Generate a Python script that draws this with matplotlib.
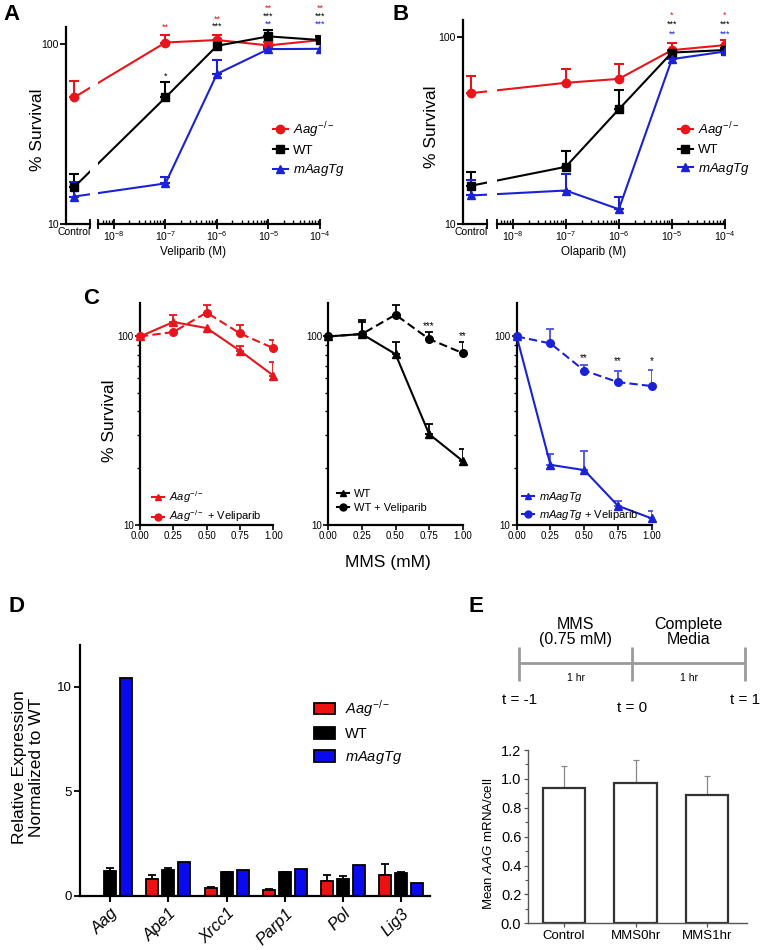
import matplotlib
matplotlib.use('Agg')
import matplotlib.pyplot as plt
import numpy as np
from matplotlib.lines import Line2D
from matplotlib.patches import Patch
from matplotlib.ticker import FixedLocator, FixedFormatter, NullLocator, LogLocator, NullFormatter, MultipleLocator

plt.rcParams['font.family'] = ['Liberation Sans', 'DejaVu Sans']
plt.rcParams['mathtext.fontset'] = 'custom'
plt.rcParams['mathtext.rm'] = 'Liberation Sans'
plt.rcParams['mathtext.it'] = 'Liberation Sans:italic'
plt.rcParams['mathtext.bf'] = 'Liberation Sans:bold'

# ---- data ----
conc = [1e-7, 1e-6, 1e-5, 1e-4]
conc_labels = ['$10^{-8}$', '$10^{-7}$', '$10^{-6}$', '$10^{-5}$', '$10^{-4}$']

# A: veliparib (control first)
vel_aag = [50.4, 101.7, 105.0, 98.0, 104.8]
vel_aag_err = [11.4, 10.0, 7.0, 4.5, 3.5]
vel_wt = [16.0, 50.4, 97.5, 110.0, 105.0]
vel_wt_err = [3.0, 11.0, 0.0, 10.0, 5.0]
vel_tg = [14.2, 16.8, 68.1, 93.5, 93.8]
vel_tg_err = [3.0, 1.5, 13.4, 2.5, 0.0]

# B: olaparib
ola_aag = [50.0, 56.8, 59.6, 84.9, 90.3]
ola_aag_err = [11.4, 10.6, 12.4, 8.3, 5.3]
ola_wt = [16.0, 20.2, 41.0, 82.4, 85.0]
ola_wt_err = [3.0, 4.3, 11.0, 2.0, 2.0]
ola_tg = [14.2, 15.1, 12.0, 76.0, 83.5]
ola_tg_err = [2.9, 3.3, 2.0, 2.0, 1.5]

# C: MMS dose
mms = [0.0, 0.25, 0.5, 0.75, 1.0]
c_aag = [100, 119.3, 110.8, 83.9, 62.0]
c_aag_err = [0, 10.7, 0, 5.6, 11.0]
c_aag_vel = [100, 105.5, 134.0, 103.7, 86.7]
c_aag_vel_err = [0, 0, 13.0, 11.7, 8.9]
c_wt = [100, 103.0, 80.6, 30.3, 21.8]
c_wt_err = [0, 19.0, 12.8, 3.9, 3.5]
c_wt_vel = [100, 103.0, 130.4, 96.9, 81.6]
c_wt_vel_err = [0, 16.7, 16.6, 8.1, 12.1]
c_tg = [100, 20.8, 19.5, 12.6, 10.8]
c_tg_err = [0, 3.0, 5.1, 0.7, 1.0]
c_tg_vel = [100, 91.8, 65.9, 57.2, 54.5]
c_tg_vel_err = [0, 17.2, 4.8, 8.5, 11.8]

# D: relative expression
genes = ['Aag', 'Ape1', 'Xrcc1', 'Parp1', 'Pol', 'Lig3']
d_aag = [0.02, 0.81, 0.38, 0.30, 0.72, 0.99]
d_aag_err = [0, 0.18, 0.03, 0.02, 0.30, 0.56]
d_wt = [1.21, 1.25, 1.13, 1.13, 0.83, 1.12]
d_wt_err = [0.11, 0.11, 0.03, 0.04, 0.13, 0.02]
d_tg = [10.4, 1.61, 1.23, 1.31, 1.50, 0.64]

# E: AAG mRNA per cell
e_groups = ['Control', 'MMS0hr', 'MMS1hr']
e_vals = [0.94, 0.97, 0.89]
e_err = [0.15, 0.16, 0.13]
t_marks = [-1, 0, 1]

RED = '#e8161c'
BLUE = '#1b22d6'
LBLUE = '#4a50e8'
AAG_LBL = r'$Aag^{-/-}$'
TG_LBL = r'$mAagTg$'

W, H = 760, 950
fig = plt.figure(figsize=(W / 100, H / 100), dpi=100)


def px_axes(l, t, r, b):
    return fig.add_axes([l / W, 1 - b / H, (r - l) / W, (b - t) / H])


def fxy(x, y):
    return x / W, 1 - y / H


def upper_err(ax, x, y, e, color, lw=1.5, cap=3.5, zorder=2):
    x, y, e = np.asarray(x, float), np.asarray(y, float), np.asarray(e, float)
    m = e > 0
    ax.errorbar(x[m], y[m], yerr=[np.zeros(m.sum()), e[m]], fmt='none', ecolor=color,
                elinewidth=lw, capsize=cap, capthick=lw, zorder=zorder)


def control_pos(lo_m, ppd, gap_px, seg_px, ctrl_px):
    c_hi = lo_m - gap_px / ppd
    c_lo = c_hi - seg_px / ppd
    return c_lo, c_hi, 10 ** (c_lo + ctrl_px / ppd)


def dose_panel(ax_c, ax_m, ctrl, ylim, series):
    x = [ctrl] + conc
    for ax in (ax_c, ax_m):
        ax.set_xscale('log')
        ax.set_yscale('log')
        for vals, errs, color, marker in series:
            upper_err(ax, x, vals, errs, color)
            ax.plot(x, vals, color=color, marker=marker, ms=6, lw=1.5, zorder=3)
        ax.set_ylim(ylim)
        for s in ('top', 'right'):
            ax.spines[s].set_visible(False)
        ax.spines['left'].set_linewidth(1.6)
        ax.spines['bottom'].set_linewidth(1.6)
    ax_c.yaxis.set_major_locator(FixedLocator([10, 100]))
    ax_c.yaxis.set_major_formatter(FixedFormatter(['10', '100']))
    ax_c.yaxis.set_minor_locator(NullLocator())
    ax_c.tick_params(axis='y', labelsize=7.5, length=4, width=1.3, pad=1)
    ax_m.spines['left'].set_visible(False)
    ax_m.yaxis.set_major_locator(NullLocator())
    ax_m.yaxis.set_minor_locator(NullLocator())


def setup_dose_x(ax_c, ax_m, lo_m, c_lo, c_hi, ctrl):
    ax_m.set_xlim(10 ** lo_m, 1e-4)
    ax_c.set_xlim(10 ** c_lo, 10 ** c_hi)
    ax_c.xaxis.set_major_locator(FixedLocator([ctrl]))
    ax_c.xaxis.set_major_formatter(FixedFormatter(['Control']))
    ax_c.xaxis.set_minor_locator(FixedLocator([10 ** c_hi]))
    ax_c.xaxis.set_minor_formatter(NullFormatter())
    ax_c.tick_params(axis='x', which='major', length=0, labelsize=7.5, pad=2)
    ax_c.tick_params(axis='x', which='minor', length=7, width=1.3, direction='inout')
    ax_m.xaxis.set_major_locator(FixedLocator([10 ** lo_m, 1e-8, 1e-7, 1e-6, 1e-5, 1e-4]))
    ax_m.xaxis.set_major_formatter(FixedFormatter([''] + conc_labels))
    minors = [k * 10.0 ** n for n in range(-9, -4) for k in range(2, 10)]
    minors = [m for m in minors if 10 ** lo_m < m < 1e-4]
    ax_m.xaxis.set_minor_locator(FixedLocator(minors))
    ax_m.xaxis.set_minor_formatter(NullFormatter())
    ax_m.tick_params(axis='x', which='major', length=7, width=1.3, direction='inout', labelsize=7.5, pad=0)
    ax_m.tick_params(axis='x', which='minor', length=3, width=1.0, direction='in')


def stars(ax, x, items):
    for y, s, color in items:
        ax.text(x, y, s, color=color, ha='center', va='center', fontsize=6.5, clip_on=False)


def dose_legend(ax, x, y, spacing):
    handles = [Line2D([], [], color=RED, marker='o', ms=6, lw=1.5),
               Line2D([], [], color='black', marker='s', ms=6, lw=1.5),
               Line2D([], [], color=BLUE, marker='^', ms=6, lw=1.5)]
    ax.legend(handles, [AAG_LBL, 'WT', TG_LBL], loc='upper left', bbox_to_anchor=fxy(x, y),
              bbox_transform=fig.transFigure, frameon=False, fontsize=9.5, handlelength=1.1,
              handletextpad=0.4, labelspacing=spacing, borderpad=0, borderaxespad=0)


# ---- A ----
ax_ac = px_axes(66, 27, 90, 224)
ax_am = px_axes(98, 27, 320, 224)
a_lo, a_hi, ctrl_a = control_pos(-8.31, 51.5, 8, 24, 8)
dose_panel(ax_ac, ax_am, ctrl_a, (10, 124),
           [(vel_aag, vel_aag_err, RED, 'o'), (vel_wt, vel_wt_err, 'black', 's'),
            (vel_tg, vel_tg_err, BLUE, '^')])
setup_dose_x(ax_ac, ax_am, -8.31, a_lo, a_hi, ctrl_a)
stars(ax_am, 1e-7, [(123, '**', RED), (66, '*', 'black')])
stars(ax_am, 1e-6, [(137, '**', RED), (125, '***', 'black')])
stars(ax_am, 1e-5, [(157, '**', RED), (142, '***', 'black'), (128, '**', BLUE)])
stars(ax_am, 1e-4, [(157, '**', RED), (142, '***', 'black'), (128, '***', BLUE)])
dose_legend(ax_am, 273, 120, 0.4)
fig.text(*fxy(38, 130), '% Survival', rotation=90, ha='center', va='center', fontsize=12.5)
fig.text(*fxy(193, 252), 'Veliparib (M)', ha='center', va='center', fontsize=8.5)

# ---- B ----
ax_bc = px_axes(462.7, 20, 487.3, 224)
ax_bm = px_axes(496.7, 20, 725, 224)
b_lo, b_hi, ctrl_b = control_pos(-8.30, 53.1, 9.4, 24.6, 8)
dose_panel(ax_bc, ax_bm, ctrl_b, (10, 123),
           [(ola_aag, ola_aag_err, RED, 'o'), (ola_wt, ola_wt_err, 'black', 's'),
            (ola_tg, ola_tg_err, BLUE, '^')])
setup_dose_x(ax_bc, ax_bm, -8.30, b_lo, b_hi, ctrl_b)
stars(ax_bm, 1e-5, [(131, '*', RED), (117, '***', 'black'), (103, '**', BLUE)])
stars(ax_bm, 1e-4, [(131, '*', RED), (117, '***', 'black'), (103, '***', BLUE)])
dose_legend(ax_bm, 678, 120, 0.35)
fig.text(*fxy(432, 127), '% Survival', rotation=90, ha='center', va='center', fontsize=12.5)
fig.text(*fxy(594, 252), 'Olaparib (M)', ha='center', va='center', fontsize=8.5)


# ---- C ----
def mms_panel(ax, solid, solid_err, dashed, dashed_err, color, ecolor, labels, leg_xy):
    ax.set_yscale('log')
    upper_err(ax, mms, solid, solid_err, ecolor, lw=1.3, cap=3)
    upper_err(ax, mms, dashed, dashed_err, ecolor, lw=1.3, cap=3)
    ax.plot(mms, solid, color=color, marker='^', ms=5.5, lw=1.5, clip_on=False, zorder=3)
    ax.plot(mms, dashed, color=color, marker='o', ms=5.5, lw=1.5, ls=(0, (4, 2)), clip_on=False, zorder=3)
    ax.set_ylim(10, 150)
    ax.set_xlim(0, 1)
    ax.set_xticks(mms)
    ax.set_xticklabels(['0.00', '0.25', '0.50', '0.75', '1.00'])
    ax.yaxis.set_major_locator(FixedLocator([10, 100]))
    ax.yaxis.set_major_formatter(FixedFormatter(['10', '100']))
    ax.yaxis.set_minor_locator(LogLocator(subs=np.arange(2, 10)))
    ax.yaxis.set_minor_formatter(NullFormatter())
    ax.tick_params(axis='both', which='major', labelsize=7, length=3.5, width=1.2, pad=1)
    ax.tick_params(axis='y', which='minor', length=2, width=1.0)
    for s in ('top', 'right'):
        ax.spines[s].set_visible(False)
    ax.spines['left'].set_linewidth(1.6)
    ax.spines['bottom'].set_linewidth(1.6)
    handles = [Line2D([], [], color=color, marker='^', ms=5, lw=1.5),
               Line2D([], [], color=color, marker='o', ms=5, lw=1.5)]
    ax.legend(handles, labels, loc='upper left', bbox_to_anchor=fxy(*leg_xy),
              bbox_transform=fig.transFigure, frameon=False, fontsize=8, handlelength=1.1,
              handletextpad=0.4, labelspacing=0.35, borderpad=0, borderaxespad=0)


ax_c1 = px_axes(140, 303.3, 273.3, 524.7)
ax_c2 = px_axes(328.3, 303.3, 462.7, 524.7)
ax_c3 = px_axes(516.7, 303.3, 651.7, 524.7)
mms_panel(ax_c1, c_aag, c_aag_err, c_aag_vel, c_aag_vel_err, RED, RED,
          [AAG_LBL, AAG_LBL + ' + Veliparib'], (152, 489))
mms_panel(ax_c2, c_wt, c_wt_err, c_wt_vel, c_wt_vel_err, 'black', 'black',
          ['WT', 'WT + Veliparib'], (337, 489))
mms_panel(ax_c3, c_tg, c_tg_err, c_tg_vel, c_tg_vel_err, BLUE, LBLUE,
          [TG_LBL, TG_LBL + ' + Veliparib'], (522, 490))
for x, y, s in [(0.75, 114, '***'), (1.0, 101, '**')]:
    ax_c2.text(x, y, s, ha='center', va='center', fontsize=7)
for x, y, s in [(0.5, 76.8, '**'), (0.75, 74.3, '**'), (1.0, 73.6, '*')]:
    ax_c3.text(x, y, s, ha='center', va='center', fontsize=7)
fig.text(*fxy(109, 421), '% Survival', rotation=90, ha='center', va='center', fontsize=12.5)
fig.text(*fxy(388, 563), 'MMS (mM)', ha='center', va='center', fontsize=12.5)

# ---- D ----
ax_d = px_axes(80, 645, 430, 896)
xd = np.arange(len(genes))
off, bw = 0.275, 0.206
ax_d.bar(xd - off, d_aag, bw, color='#ee1111', edgecolor='black', lw=1.3, zorder=2)
ax_d.bar(xd, d_wt, bw, color='black', edgecolor='black', lw=1.3, zorder=2)
ax_d.bar(xd + off, d_tg, bw, color='#0a0aee', edgecolor='black', lw=1.3, zorder=2)
upper_err(ax_d, xd - off, d_aag, d_aag_err, 'black', lw=1.3, cap=3, zorder=1)
upper_err(ax_d, xd, d_wt, d_wt_err, 'black', lw=1.3, cap=3, zorder=1)
ax_d.set_xlim(-0.515, 5.49)
ax_d.set_ylim(0, 12)
ax_d.set_yticks([0, 5, 10])
ax_d.set_xticks(xd)
ax_d.set_xticklabels(genes, rotation=45, ha='right', rotation_mode='anchor', fontstyle='italic', fontsize=12)
ax_d.tick_params(axis='x', length=4, width=1.5, pad=3)
ax_d.tick_params(axis='y', length=4, width=1.3, labelsize=9.5, pad=2)
for s in ('top', 'right'):
    ax_d.spines[s].set_visible(False)
ax_d.spines['left'].set_linewidth(1.6)
ax_d.spines['bottom'].set_linewidth(1.6)
d_handles = [Patch(facecolor='#ee1111', edgecolor='black', lw=1.3),
             Patch(facecolor='black', edgecolor='black', lw=1.3),
             Patch(facecolor='#0a0aee', edgecolor='black', lw=1.3)]
ax_d.legend(d_handles, [AAG_LBL, 'WT', TG_LBL], loc='upper left', bbox_to_anchor=fxy(314, 698),
            bbox_transform=fig.transFigure, frameon=False, fontsize=10.5, handlelength=1.45,
            handleheight=0.85, handletextpad=0.7, labelspacing=0.55, borderpad=0, borderaxespad=0)
fig.text(*fxy(28, 767), 'Relative Expression\nNormalized to WT', rotation=90, ha='center',
         va='center', fontsize=12.5, linespacing=1.1)

# ---- E timeline ----
ax_t = px_axes(500, 600, 760, 715)
ax_t.set_xlim(-1 - 19.3 / 112.85, 1 + 15 / 112.85)
ax_t.set_ylim(0, 1)
ax_t.axis('off')
GRAY = '#9a9a9a'
ax_t.plot([t_marks[0], t_marks[-1]], [0.45, 0.45], color=GRAY, lw=2, solid_capstyle='butt')
ax_t.vlines(t_marks, 0.30, 0.59, color=GRAY, lw=2)
ax_t.text(-0.5, 0.72, 'MMS\n(0.75 mM)', ha='center', va='center', fontsize=11.5, linespacing=1.0)
ax_t.text(0.5, 0.72, 'Complete\nMedia', ha='center', va='center', fontsize=11.5, linespacing=1.0)
for mid in (-0.5, 0.5):
    ax_t.text(mid, 0.325, '1 hr', ha='center', va='center', fontsize=7.5)
for t, y in zip(t_marks, [0.13, 0.06, 0.13]):
    ax_t.text(t, y, f't = {t}', ha='center', va='center', fontsize=11)

# ---- E bars ----
ax_e = px_axes(528.3, 750, 746.7, 923.3)
xe = np.arange(len(e_groups))
ax_e.bar(xe, e_vals, 0.6, color='white', edgecolor='#333333', lw=1.6, zorder=2)
upper_err(ax_e, xe, e_vals, e_err, '#888888', lw=0.9, cap=2, zorder=1)
ax_e.set_xlim(-0.5, 2.555)
ax_e.set_ylim(0, 1.2)
ax_e.set_yticks(np.arange(0, 1.21, 0.2))
ax_e.set_yticklabels([f'{v:.1f}' for v in np.arange(0, 1.21, 0.2)])
ax_e.yaxis.set_minor_locator(MultipleLocator(0.1))
ax_e.set_xticks(xe)
ax_e.set_xticklabels(e_groups)
ax_e.tick_params(axis='y', which='major', labelsize=10.5, length=3, width=0.9, color='#555555', pad=2)
ax_e.tick_params(axis='y', which='minor', length=2, width=0.8, color='#555555')
ax_e.tick_params(axis='x', labelsize=9.5, length=3, width=0.9, color='#555555', pad=2)
for s in ('top', 'right'):
    ax_e.spines[s].set_visible(False)
for s in ('left', 'bottom'):
    ax_e.spines[s].set_color('#555555')
    ax_e.spines[s].set_linewidth(1.0)
fig.text(*fxy(488, 844), 'Mean $AAG$ mRNA/cell', rotation=90, ha='center', va='center', fontsize=9.5)

# ---- panel letters ----
for x, y, s in [(11, 15, 'A'), (401, 15, 'B'), (91, 298, 'C'), (16, 607, 'D'), (476, 606, 'E')]:
    fig.text(*fxy(x, y), s, ha='center', va='center', fontsize=16, fontweight='bold')

fig.savefig('out.png', dpi=100)
